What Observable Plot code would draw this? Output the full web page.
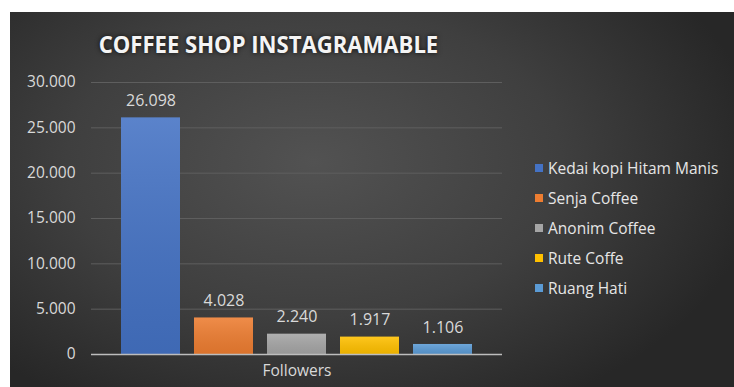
<!DOCTYPE html>
<html>
<head>
<meta charset="utf-8">
<script src="https://cdn.jsdelivr.net/npm/d3@7"></script>
<script src="https://cdn.jsdelivr.net/npm/@observablehq/plot@0.6"></script>
<style>
  html, body { margin: 0; padding: 0; background: #fff; width: 734px; height: 387px; overflow: hidden; }
  #bg { position: absolute; left: 10px; top: 12px; width: 724px; height: 375px;
        background: radial-gradient(ellipse 62% 75% at 42% 40%, #525252 0%, #3f3f3f 55%, #272727 100%); }
  #title { position: absolute; left: 0; width: 537px; top: 27px; text-align: center;
           font-family: "Open Sans", sans-serif; font-weight: 700; font-size: 24px; color: #f4f4f4;
           transform: scaleX(0.92); transform-origin: 268px 0;
           text-shadow: 0 0 6px rgba(0,0,0,0.8); white-space: nowrap; }
  #chart { position: absolute; left: 0; top: 0; }
  #legend { position: absolute; left: 535px; top: 153px; font-family: "Open Sans", sans-serif;
            font-size: 15.5px; color: #e6e6e6; }
  #legend .row { display: flex; align-items: center; height: 30px; white-space: nowrap; }
  #legend .sw { width: 8px; height: 8px; margin-right: 5px; }
</style>
</head>
<body>
<div id="bg"></div>
<div id="title">COFFEE SHOP INSTAGRAMABLE</div>
<div id="chart"></div>
<div id="legend"></div>
<script>
const names = ["Kedai kopi Hitam Manis", "Senja Coffee", "Anonim Coffee", "Rute Coffe", "Ruang Hati"];
const followers = [26098, 4028, 2240, 1917, 1106];
const colors = ["#4472c4", "#ed7d31", "#a5a5a5", "#ffc000", "#5b9bd5"];
const yTicks = [0, 5000, 10000, 15000, 20000, 25000, 30000];
const categoryLabel = "Followers";

const data = names.map((n, i) => ({name: n, value: followers[i]}));
const fmt = d3.formatLocale({decimal: ",", thousands: ".", grouping: [3], currency: ["", ""]}).format(",");

const chart = Plot.plot({
  width: 734,
  height: 387,
  marginLeft: 91,
  marginRight: 232,
  marginTop: 82,
  marginBottom: 33,
  style: {background: "transparent", fontFamily: "'Open Sans', sans-serif", fontSize: "15.5px", color: "#d9d9d9", overflow: "visible"},
  x: {domain: names, paddingInner: 0.19, paddingOuter: 0.095, insetLeft: 23, insetRight: 22, axis: null},
  y: {domain: [0, 30000], ticks: yTicks, tickFormat: fmt, tickSize: 0, tickPadding: 16, label: null},
  color: {domain: names, range: colors},
  marks: [
    Plot.ruleY(yTicks.filter(d => d > 0), {stroke: "#5e5e5e", strokeWidth: 1}),
    Plot.barY(data, {x: "name", y: "value", fill: "name"}),
    Plot.barY(data, {x: "name", y: "value", fill: "url(#shade)"}),
    Plot.ruleY([0], {stroke: "#bdbdbd", strokeWidth: 1.3}),
    Plot.text(data, {x: "name", y: "value", text: d => fmt(d.value), dy: -17, fill: "#d9d9d9", fontSize: 16}),
    Plot.text([categoryLabel], {frameAnchor: "bottom", dy: 21, fill: "#d9d9d9", fontSize: 15.5}),
    () => {
      const svg = d3.create("svg:g");
      const grad = svg.append("defs").append("linearGradient").attr("id", "shade")
        .attr("x1", 0).attr("y1", 0).attr("x2", 0).attr("y2", 1);
      grad.append("stop").attr("offset", "0%").attr("stop-color", "#fff").attr("stop-opacity", 0.12);
      grad.append("stop").attr("offset", "100%").attr("stop-color", "#000").attr("stop-opacity", 0.08);
      return svg.node();
    }
  ]
});
document.getElementById("chart").appendChild(chart);

const color = chart.scale("color");
const legend = d3.select("#legend");
names.forEach(n => {
  const row = legend.append("div").attr("class", "row");
  row.append("div").attr("class", "sw").style("background", color.apply(n));
  row.append("span").text(n);
});
</script>
</body>
</html>
